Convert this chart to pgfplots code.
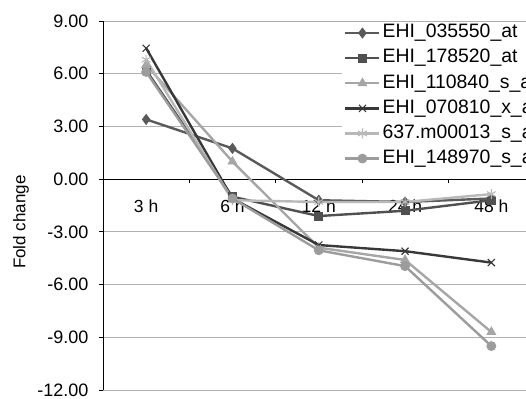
\documentclass[border=0pt]{standalone}
\usepackage{fontspec}
\setmainfont{Liberation Sans}
\usepackage{pgfplots}
\pgfplotsset{compat=1.18}
\definecolor{dgA}{HTML}{5A5A5A}
\definecolor{dgB}{HTML}{505050}
\definecolor{lgA}{HTML}{A6A6A6}
\definecolor{dgC}{HTML}{383838}
\definecolor{lgB}{HTML}{B8B8B8}
\definecolor{lgC}{HTML}{9C9C9C}
\definecolor{gridc}{HTML}{B0B0B0}
\begin{document}
\begin{tikzpicture}
\begin{axis}[
  at={(103pt,8pt)}, anchor=south west,
  scale only axis, width=431.5pt, height=369pt,
  xmin=-0.5, xmax=4.5, ymin=-12, ymax=9,
  axis y line*=left, axis x line*=middle,
  axis line style={black, line width=0.8pt},
  xtick={0,1,2,3,4},
  xticklabels={3 h,6 h,12 h,24 h,48 h},
  major x tick style={draw=none},
  minor xtick={0.5,1.5,2.5,3.5},
  minor x tick style={black, line width=0.8pt},
  minor tick length=4pt,
  major tick length=4pt,
  tick align=outside,
  x tick label style={font=\fontsize{17.5}{19}\selectfont, anchor=north, yshift=-13pt},
  ytick={-12,-9,-6,-3,0,3,6,9},
  y tick label style={font=\fontsize{18}{20}\selectfont, xshift=-7pt},
  yticklabel style={/pgf/number format/fixed, /pgf/number format/fixed zerofill, /pgf/number format/precision=2, /pgf/number format/assume math mode=true},
  ytick style={black, line width=0.8pt},
  ymajorgrids, major grid style={gridc, line width=0.8pt},
  ylabel={Fold change},
  every axis y label/.style={at={(axis description cs:-0.19,0.455)}, rotate=90, anchor=center, font=\fontsize{17}{19}\selectfont},
  legend image code/.code={\draw[mark repeat=2,mark phase=2,#1] plot coordinates {(0pt,0pt) (17pt,0pt) (34pt,0pt)};},
  legend cell align=left,
  legend style={at={(axis description cs:0.554,0.997)}, anchor=north west, draw=none, fill=white,
    font=\fontsize{19.4}{21}\selectfont, inner sep=2pt, row sep=7.6pt, column sep=2pt,
    nodes={inner sep=0pt, text height=13.5pt, text depth=4pt}},
  every axis plot/.append style={line width=2.4pt},
]
\addplot[color=dgA, mark=diamond*, mark size=5pt, mark options={solid, line width=0.8pt}] coordinates {(0,3.4) (1,1.75) (2,-1.2) (3,-1.3) (4,-1.1)};
\addlegendentry{EHI\_035550\_at}
\addplot[color=dgB, mark=square*, mark size=4pt, mark options={solid, line width=0.8pt}] coordinates {(0,6.2) (1,-1.0) (2,-2.1) (3,-1.8) (4,-1.2)};
\addlegendentry{EHI\_178520\_at}
\addplot[color=lgA, mark=triangle*, mark size=5pt, mark options={solid, line width=0.8pt}] coordinates {(0,6.5) (1,1.0) (2,-3.9) (3,-4.6) (4,-8.7)};
\addlegendentry{EHI\_110840\_s\_at}
\addplot[color=dgC, mark=x, mark size=5pt, mark options={solid, line width=1.1pt}] coordinates {(0,7.45) (1,-1.1) (2,-3.75) (3,-4.1) (4,-4.75)};
\addlegendentry{EHI\_070810\_x\_at}
\addplot[color=lgB, mark=asterisk, mark size=5pt, mark options={solid, line width=1.1pt}] coordinates {(0,6.8) (1,-1.2) (2,-1.3) (3,-1.3) (4,-0.85)};
\addlegendentry{637.m00013\_s\_at}
\addplot[color=lgC, mark=*, mark size=4.5pt, mark options={solid, line width=0.8pt}] coordinates {(0,6.1) (1,-1.1) (2,-4.05) (3,-4.95) (4,-9.5)};
\addlegendentry{EHI\_148970\_s\_at}
\end{axis}
\pgfresetboundingbox
\useasboundingbox (0pt,0pt) rectangle (526pt,398pt);
\end{tikzpicture}
\end{document}
